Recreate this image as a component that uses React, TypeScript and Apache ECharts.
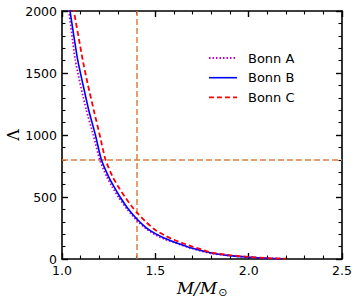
import React, { useEffect, useRef } from "react";
import * as echarts from "echarts";

// Mass (M/Msun) and tidal deformability (Lambda) for three EOS models
const bonnA: [number, number][] = [
  [1.035, 2030], [1.071, 1605], [1.13, 1202], [1.168, 1000], [1.202, 800],
  [1.24, 663], [1.27, 579], [1.302, 500], [1.35, 400], [1.4, 312],
  [1.45, 245], [1.5, 195], [1.55, 160], [1.6, 133], [1.7, 83], [1.8, 45],
  [1.9, 26], [2.0, 14], [2.1, 6], [2.18, 2],
];
const bonnB: [number, number][] = [
  [1.04, 2030], [1.084, 1605], [1.113, 1403], [1.143, 1202], [1.179, 1000],
  [1.211, 800], [1.25, 663], [1.28, 579], [1.311, 500], [1.35, 414],
  [1.4, 324], [1.45, 254], [1.5, 205], [1.55, 168], [1.6, 138], [1.7, 86],
  [1.8, 48], [1.9, 27], [2.0, 15], [2.1, 6], [2.18, 2],
];
const bonnC: [number, number][] = [
  [1.06, 2030], [1.111, 1605], [1.139, 1403], [1.17, 1202], [1.202, 1000],
  [1.233, 800], [1.27, 667], [1.3, 586], [1.3375, 500], [1.37, 432],
  [1.4, 376], [1.45, 298], [1.5, 234], [1.55, 190], [1.6, 155], [1.65, 125],
  [1.7, 100], [1.75, 76], [1.8, 52], [1.9, 31], [2.0, 17], [2.1, 7], [2.2, 2],
];
const seriesNames = ["Bonn A", "Bonn B", "Bonn C"];
const seriesColors = ["#bf00bf", "#0000ff", "#ff0000"];
const seriesDash: (number[] | null)[] = [[1.5, 2], null, [5, 3]];
const refMass = 1.4;
const refLambda = 800;
const xRange = [1.0, 2.5];
const yRange = [0, 2000];

export default function App() {
  const ref = useRef<HTMLDivElement>(null);
  useEffect(() => {
    if (!ref.current) return;
    const chart = echarts.init(ref.current, undefined, { renderer: "svg" });
    const axisCommon = (show: boolean) => ({
      axisLine: { show: true, onZero: false, lineStyle: { color: "#000", width: 1.6 } },
      axisTick: { show: true, inside: true, length: 6, lineStyle: { color: "#000", width: 1.4 } },
      minorTick: { show: true, splitNumber: 5, length: 3.5, lineStyle: { color: "#000", width: 1.1 } },
      splitLine: { show: false },
      minorSplitLine: { show: false },
      axisLabel: {
        show,
        color: "#000",
        fontSize: 12.5,
        fontFamily: "DejaVu Sans",
        margin: 5,
      },
    });
    const orange = "#dd8040";
    const legendGraphics: any[] = [];
    seriesNames.forEach((name, i) => {
      const y = 58 + i * 19.7;
      legendGraphics.push({
        type: "line",
        shape: { x1: 209, y1: y, x2: 237, y2: y },
        style: {
          stroke: seriesColors[i],
          lineWidth: i === 1 ? 1.6 : 1.8,
          lineDash: seriesDash[i] || undefined,
        },
      });
      legendGraphics.push({
        type: "text",
        x: 248,
        y,
        style: {
          text: name,
          fontSize: 13,
          fontFamily: "DejaVu Sans",
          fill: "#000",
          textVerticalAlign: "middle",
        },
      });
    });
    const mkSeries = (i: number, data: [number, number][], z: number, extra: any = {}) => ({
      name: seriesNames[i],
      type: "line",
      data,
      symbol: "none",
      smooth: 0.2,
      z,
      lineStyle: {
        color: seriesColors[i],
        width: i === 1 ? 1.6 : 1.8,
        type: seriesDash[i] || "solid",
      },
      itemStyle: { color: seriesColors[i] },
      ...extra,
    });
    chart.setOption({
      animation: false,
      grid: { left: 62, right: 16, top: 11, bottom: 45, containLabel: false },
      xAxis: [
        {
          type: "value", min: xRange[0], max: xRange[1], interval: 0.5, position: "bottom",
          ...axisCommon(true),
          axisLabel: { ...axisCommon(true).axisLabel, formatter: (v: number) => v.toFixed(1) },
        },
        { type: "value", min: xRange[0], max: xRange[1], interval: 0.5, position: "top", ...axisCommon(false) },
      ],
      yAxis: [
        {
          type: "value", min: yRange[0], max: yRange[1], interval: 500, position: "left",
          ...axisCommon(true),
          axisLabel: { ...axisCommon(true).axisLabel, formatter: (v: number) => String(v) },
        },
        { type: "value", min: yRange[0], max: yRange[1], interval: 500, position: "right", ...axisCommon(false) },
      ],
      graphic: [
        ...legendGraphics,
        {
          type: "text",
          x: 13,
          y: 135,
          rotation: Math.PI / 2,
          style: {
            text: "Λ",
            fontSize: 16,
            fontFamily: "DejaVu Serif",
            fill: "#000",
            textAlign: "center",
            textVerticalAlign: "middle",
          },
        },
        {
          type: "text",
          x: 202,
          y: 288,
          style: {
            text: "{i|M/M}{s|⊙}",
            textAlign: "center",
            textVerticalAlign: "middle",
            fill: "#000",
            rich: {
              i: { fontSize: 17, fontFamily: "DejaVu Serif", fontStyle: "italic", lineHeight: 22, verticalAlign: "middle" },
              s: { fontSize: 11, fontFamily: "DejaVu Sans", padding: [9, 0, 0, 1], verticalAlign: "middle" },
            },
          },
        },
      ],
      series: [
        mkSeries(0, bonnA, 3, {
          markLine: {
            silent: true,
            symbol: "none",
            z: 1,
            label: { show: false },
            lineStyle: { color: orange, width: 1.5, type: [6, 3] },
            data: [{ xAxis: refMass }, { yAxis: refLambda }],
          },
        }),
        mkSeries(1, bonnB, 4),
        mkSeries(2, bonnC, 5),
      ],
    });
    return () => chart.dispose();
  }, []);
  return <div ref={ref} style={{ width: 358, height: 304, position: "absolute", left: 0, top: 0 }} />;
}
